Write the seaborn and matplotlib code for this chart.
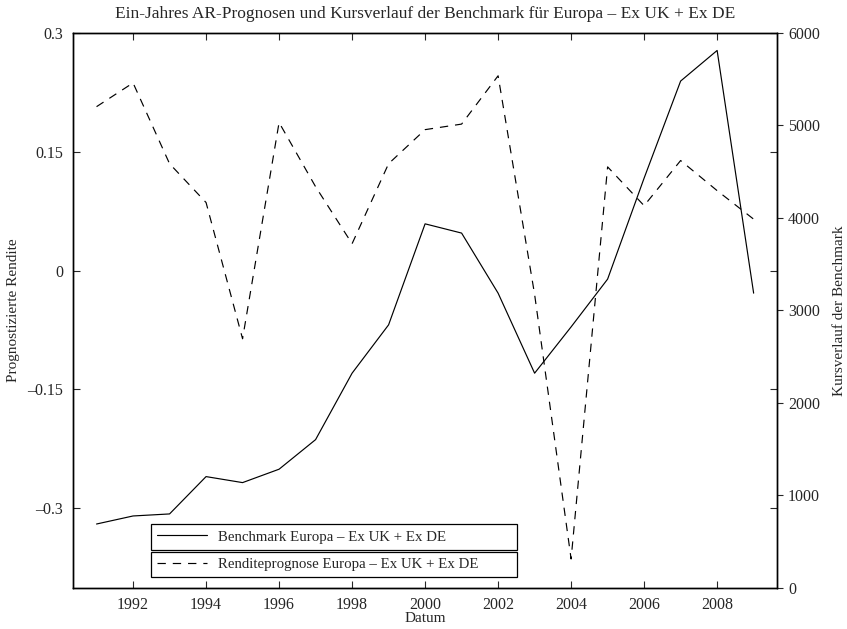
import numpy as np
import pandas as pd
import matplotlib
matplotlib.use("Agg")
import matplotlib.pyplot as plt
import seaborn as sns

years = list(range(1991, 2010))
rendite = [0.207, 0.237, 0.135, 0.086, -0.086, 0.187, 0.106, 0.034, 0.135, 0.178,
           0.185, 0.246, -0.030, -0.364, 0.131, 0.082, 0.139, 0.101, 0.065]
benchmark = [687, 774, 796, 1200, 1135, 1280, 1600, 2319, 2842, 3935,
             3835, 3185, 2319, 2820, 3337, 4430, 5480, 5811, 3185]

xticks = list(range(1992, 2009, 2))
yticks_left = [-0.3, -0.15, 0, 0.15, 0.3]
yticks_right = [0, 1000, 2000, 3000, 4000, 5000, 6000]

title = "Ein-Jahres AR-Prognosen und Kursverlauf der Benchmark für Europa – Ex UK + Ex DE"
label_bench = "Benchmark Europa – Ex UK + Ex DE"
label_rend = "Renditeprognose Europa – Ex UK + Ex DE"

df = pd.DataFrame({"Jahr": years, "Rendite": rendite, "Benchmark": benchmark})

sns.set_style("ticks")
plt.rcParams["font.family"] = ["Liberation Serif", "DejaVu Serif"]
plt.rcParams["font.size"] = 11.5
plt.rcParams["lines.scale_dashes"] = False

fig = plt.figure(figsize=(8.47, 6.29), dpi=100)
ax = fig.add_axes([73 / 847, 1 - 587.5 / 629, (777 - 73) / 847, (587.5 - 33) / 629])
ax2 = ax.twinx()

# returns on the left axis
sns.lineplot(data=df, x="Jahr", y="Rendite", ax=ax, color="black", linewidth=0.85)
ax.lines[-1].set_dashes([6, 5])
# benchmark level on the right axis
sns.lineplot(data=df, x="Jahr", y="Benchmark", ax=ax2, color="black", linewidth=0.85)

ax.set_xlim(1990.355, 2009.64)
ax.set_ylim(-0.4, 0.3)
ax2.set_ylim(0, 6000)

ax.set_xticks(xticks)
ax.set_yticks(yticks_left)
ax.set_yticklabels([f"{v:g}".replace("-", "–") for v in yticks_left])
ax2.set_yticks(yticks_right)

ax.tick_params(axis="both", direction="in", length=5, width=0.8, pad=7,
               top=True, right=True, labelsize=11.5)
ax2.tick_params(axis="y", direction="out", length=4, width=0.8, pad=4, labelsize=11.5)

for a in (ax, ax2):
    for s in a.spines.values():
        s.set_visible(True)
        s.set_linewidth(1.0)
        s.set_color("black")

ax.set_xlabel("Datum", fontsize=11, labelpad=-1)
ax.set_ylabel("Prognostizierte Rendite", fontsize=11, labelpad=5)
ax2.set_ylabel("Kursverlauf der Benchmark", fontsize=11, labelpad=9)
ax.set_title(title, fontsize=12.5, pad=11)

l_bench = ax2.lines[-1]
l_rend = ax.lines[-1]
leg_kw = dict(loc="center", mode="expand", borderaxespad=0, fancybox=False,
              framealpha=1, edgecolor="black", handlelength=3.4, handletextpad=0.7,
              borderpad=0.4, fontsize=10.7, bbox_transform=fig.transFigure)
leg1 = ax2.legend([l_bench], [label_bench],
                  bbox_to_anchor=(151 / 847, 1 - 550.7 / 629, 366 / 847, 27.6 / 629), **leg_kw)
leg1.get_frame().set_linewidth(0.9)
ax2.add_artist(leg1)
leg2 = ax2.legend([l_rend], [label_rend],
                  bbox_to_anchor=(151 / 847, 1 - 578.3 / 629, 366 / 847, 27.6 / 629), **leg_kw)
leg2.get_frame().set_linewidth(0.9)

fig.savefig("out.png", dpi=100)
